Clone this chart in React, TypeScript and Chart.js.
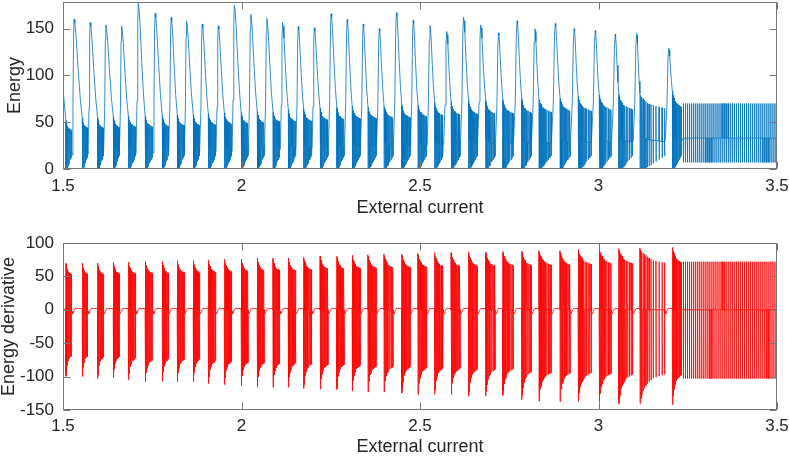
import { useEffect, useRef } from 'react';
import { Chart, registerables, Plugin, ChartConfiguration } from 'chart.js';

Chart.register(...registerables);

// axes
const xTicks = [1.5, 2, 2.5, 3, 3.5];
const xTickLabels = ['1.5', '2', '2.5', '3', '3.5'];
const energyTicks = [0, 50, 100, 150];
const energyTickLabels = ['0', '50', '100', '150'];
const derivTicks = [-150, -100, -50, 0, 50, 100];
const derivTickLabels = ['-150', '-100', '-50', '0', '50', '100'];

// bursts (external current units)
const burstStart = [1.508, 1.554, 1.597, 1.641, 1.683, 1.730, 1.778, 1.820, 1.865, 1.907, 1.952, 1.999, 2.044, 2.088, 2.131, 2.174, 2.220, 2.267, 2.310, 2.354, 2.399, 2.449, 2.494, 2.541, 2.587, 2.636, 2.684, 2.732, 2.785, 2.833, 2.892, 2.943, 3.002, 3.057, 3.116, 3.207];
const burstEnd = [1.524, 1.569, 1.613, 1.657, 1.703, 1.751, 1.795, 1.839, 1.882, 1.927, 1.972, 2.018, 2.063, 2.107, 2.151, 2.196, 2.242, 2.287, 2.332, 2.377, 2.424, 2.472, 2.518, 2.564, 2.612, 2.660, 2.710, 2.761, 2.811, 2.867, 2.920, 2.979, 3.035, 3.095, 3.185, 3.232];
const peakX = [1.531, 1.576, 1.620, 1.664, 1.711, 1.758, 1.803, 1.846, 1.890, 1.935, 1.980, 2.026, 2.071, 2.115, 2.159, 2.204, 2.251, 2.296, 2.341, 2.386, 2.434, 2.481, 2.528, 2.575, 2.622, 2.670, 2.720, 2.772, 2.822, 2.879, 2.932, 2.991, 3.047, 3.107, 3.197];
const peakEnergy = [160, 156.5, 154, 153, 177, 166.5, 162, 158, 155, 153, 175, 165, 161, 156.5, 152.5, 151, 166, 160, 155, 150, 167, 159, 153.5, 147, 162, 154, 145.5, 158.5, 150, 155.5, 150, 148, 144, 145, 129];
const blockTopEnergy = [52, 54.5, 54.5, 55.5, 56.5, 56.5, 57, 58, 58, 59, 60, 60.5, 61.5, 62.5, 63.5, 64, 65, 66, 67, 67.5, 68.5, 68.5, 70, 71, 72, 73, 73.5, 74, 75, 76, 77.5, 77.5, 79, 79.5, 81, 83];
const troughEnergy = [15, 16, 16, 17, 17, 17, 18, 18, 18, 19, 19, 20, 20, 21, 21, 22, 22, 23, 23, 24, 24, 25, 25, 26, 26, 27, 27, 28, 28, 29, 29, 30, 30, 31, 33];
const derivTop = [70, 70, 70, 71, 71.5, 72.5, 72.5, 73.5, 73.5, 74.5, 75.5, 76, 77.5, 77.5, 77.5, 79, 80.5, 80.5, 81.5, 82.5, 83.5, 83.5, 84.5, 85.5, 85.5, 86.5, 86.5, 87.5, 88, 88.5, 88.5, 90, 91.5, 91.5, 92.5, 93.5];
const derivBottom = [-99.6, -100, -103, -102, -105, -108, -107, -108, -108, -110.6, -112, -114, -115.5, -116, -116, -118, -119, -119, -121.5, -123, -123, -124.5, -126.5, -126.5, -126.5, -129.5, -129, -128, -134.6, -136.5, -137, -137, -138, -140.6, -140, -142];

// shape of one spike block, as fractions read from a burst
const spikeOffsets = [0, 0.04, 0.08, 0.13, 0.18, 0.24, 0.30, 0.37, 0.45, 0.54, 0.65, 0.78, 0.9, 1.0];
const energyLevels = [1, 0.97, 0.95, 0.93, 0.91, 0.89, 0.87, 0.86, 0.85, 0.84, 0.83, 0.82, 0.81, 0.8];
const energyLows = [0, 0, 0, 0, 0, 1, 2, 3, 4, 6, 8, 10, 12, 14];
const derivTopLevels = [1, 0.97, 0.94, 0.92, 0.9, 0.88, 0.86, 0.84, 0.82, 0.8, 0.79, 0.78, 0.77, 0.76];
const derivBottomLevels = [1, 0.95, 0.91, 0.87, 0.84, 0.81, 0.79, 0.77, 0.75, 0.73, 0.72, 0.71, 0.7, 0.69];

// shape of the big energy peak
const riseT = [0.2, 0.55, 0.8, 1];
const riseLevel = [0, 0.35, 0.88, 1];
const descentT = [0.1, 0.25, 0.5, 0.75];
const descentLevel = [0.96, 0.82, 0.49, 0.2];

// small dip of the derivative after a block
const dipDx = [0.0015, 0.0035, 0.006, 0.01];
const dipValue = [-2.5, -6, -2, 2];

const startEnergy = 86;
const quietDeriv = 2;

// regular spiking after the last burst
const tailPeriod = 0.0057;
const tailEnergyTop = 70;
const tailEnergyHover = 33;
const tailEnergyLow = 7;
const tailDerivTop = 72;
const tailDerivBottom = -103;

const dx = 0.0004;

type P = { x: number; y: number };

function buildEnergy(): P[] {
  const pts: P[] = [{ x: 1.5, y: startEnergy }];
  for (let i = 0; i < burstStart.length; i++) {
    const s = burstStart[i];
    const e = burstEnd[i];
    spikeOffsets.forEach((o, k) => {
      const x = s + o * (e - s);
      const top = blockTopEnergy[i] * energyLevels[k];
      const hover = top * 0.45;
      if (k > 0) pts.push({ x: x - dx, y: hover });
      pts.push({ x, y: top });
      pts.push({ x: x + dx, y: energyLows[k] });
      pts.push({ x: x + 2 * dx, y: hover });
    });
    if (i < peakX.length) {
      const tr = troughEnergy[i];
      const pk = peakEnergy[i];
      riseT.forEach((t, k) => {
        pts.push({ x: e + t * (peakX[i] - e), y: tr + riseLevel[k] * (pk - tr) });
      });
      const next = blockTopEnergy[i + 1];
      descentT.forEach((t, k) => {
        pts.push({ x: peakX[i] + t * (burstStart[i + 1] - peakX[i]), y: next + descentLevel[k] * (pk - next) });
      });
    }
  }
  const tailFrom = burstEnd[burstEnd.length - 1];
  for (let x = tailFrom + tailPeriod; x <= 3.5; x += tailPeriod) {
    pts.push({ x: x - dx, y: tailEnergyHover });
    pts.push({ x, y: tailEnergyTop });
    pts.push({ x: x + dx, y: tailEnergyLow });
    pts.push({ x: x + 2 * dx, y: tailEnergyHover });
  }
  return pts;
}

function buildDeriv(): P[] {
  const pts: P[] = [{ x: 1.5, y: quietDeriv }];
  for (let i = 0; i < burstStart.length; i++) {
    const s = burstStart[i];
    const e = burstEnd[i];
    spikeOffsets.forEach((o, k) => {
      const x = s + o * (e - s);
      pts.push({ x: x - dx * 0.5, y: 0 });
      pts.push({ x, y: derivTop[i] * derivTopLevels[k] });
      pts.push({ x: x + dx, y: derivBottom[i] * derivBottomLevels[k] });
      pts.push({ x: x + 1.5 * dx, y: 0 });
    });
    if (i < peakX.length) {
      dipDx.forEach((d, k) => pts.push({ x: e + d, y: dipValue[k] }));
      pts.push({ x: burstStart[i + 1] - dx, y: quietDeriv });
    }
  }
  const tailFrom = burstEnd[burstEnd.length - 1];
  for (let x = tailFrom + tailPeriod; x <= 3.5; x += tailPeriod) {
    pts.push({ x: x - dx * 0.5, y: 0 });
    pts.push({ x, y: tailDerivTop });
    pts.push({ x: x + dx, y: tailDerivBottom });
    pts.push({ x: x + 1.5 * dx, y: 0 });
  }
  return pts;
}

const axisColor = '#262626';
const fontFamily = '"Liberation Sans", Arial, sans-serif';

// matlab-like box with inward ticks
const boxPlugin: Plugin = {
  id: 'matlabBox',
  afterDatasetsDraw(chart) {
    const { ctx, chartArea: a, scales } = chart;
    const l = Math.round(a.left) + 0.5;
    const r = Math.round(a.right) - 0.5;
    const t = Math.round(a.top) + 0.5;
    const b = Math.round(a.bottom) - 0.5;
    ctx.save();
    ctx.strokeStyle = '#777777';
    ctx.lineWidth = 1;
    ctx.strokeRect(l, t, r - l, b - t);
    ctx.beginPath();
    xTicks.forEach((v) => {
      const px = Math.round(scales.x.getPixelForValue(v)) + 0.5;
      ctx.moveTo(px, b); ctx.lineTo(px, b - 7);
      ctx.moveTo(px, t); ctx.lineTo(px, t + 7);
    });
    (scales.y.ticks || []).forEach((tk) => {
      const py = Math.round(scales.y.getPixelForValue(tk.value)) + 0.5;
      ctx.moveTo(l, py); ctx.lineTo(l + 7, py);
      ctx.moveTo(r, py); ctx.lineTo(r - 7, py);
    });
    ctx.stroke();
    ctx.restore();
  },
};

const noPad = (scale: any) => {
  scale.paddingTop = 0;
  scale.paddingBottom = 0;
  scale.paddingLeft = 0;
  scale.paddingRight = 0;
};

function makeConfig(
  data: P[],
  color: string,
  yMin: number,
  yMax: number,
  yTicks: number[],
  yLabels: string[],
  yTitle: string,
  padTop: number,
  xAxisHeight: number,
  xTickPad: number,
  xTitlePad: number,
  yTitlePad: number,
): ChartConfiguration<'line'> {
  return {
    type: 'line',
    data: {
      datasets: [{
        data,
        borderColor: color,
        borderWidth: 0.8,
        pointRadius: 0,
        tension: 0,
        fill: false,
      }],
    },
    options: {
      animation: false,
      responsive: true,
      maintainAspectRatio: false,
      parsing: false,
      normalized: true,
      events: [],
      layout: { padding: { top: padTop, right: 12, left: 0, bottom: 0 } },
      plugins: { legend: { display: false }, tooltip: { enabled: false } },
      scales: {
        x: {
          type: 'linear',
          min: 1.5,
          max: 3.5,
          grid: { display: false, drawTicks: false },
          border: { display: false },
          afterBuildTicks: (scale) => { scale.ticks = xTicks.map((v) => ({ value: v })); },
          afterFit: (scale) => { scale.height = xAxisHeight; noPad(scale); },
          ticks: {
            autoSkip: false,
            maxRotation: 0,
            padding: xTickPad,
            color: axisColor,
            font: { family: fontFamily, size: 17 },
            callback: (v) => xTickLabels[xTicks.indexOf(Number(v))] ?? '',
          },
          title: {
            display: true,
            text: 'External current',
            color: axisColor,
            font: { family: fontFamily, size: 18, lineHeight: 1 },
            padding: { top: 0, bottom: xTitlePad },
          },
        },
        y: {
          type: 'linear',
          min: yMin,
          max: yMax,
          grid: { display: false, drawTicks: false },
          border: { display: false },
          afterBuildTicks: (scale) => { scale.ticks = yTicks.map((v) => ({ value: v })); },
          afterFit: (scale) => { scale.width = 63; noPad(scale); },
          ticks: {
            autoSkip: false,
            padding: 9,
            color: axisColor,
            font: { family: fontFamily, size: 17 },
            callback: (v) => yLabels[yTicks.indexOf(Number(v))] ?? '',
          },
          title: {
            display: true,
            text: yTitle,
            color: axisColor,
            font: { family: fontFamily, size: 18, lineHeight: 1 },
            padding: { top: yTitlePad, bottom: 0 },
          },
        },
      },
    },
    plugins: [boxPlugin],
  };
}

const App: React.FC = () => {
  const topRef = useRef<HTMLCanvasElement>(null);
  const bottomRef = useRef<HTMLCanvasElement>(null);

  useEffect(() => {
    const charts: Chart[] = [];
    if (topRef.current) {
      charts.push(new Chart(topRef.current, makeConfig(
        buildEnergy(), '#0072BD', 0, 178.5, energyTicks, energyTickLabels, 'Energy', 2, 59, 7, 11, 6,
      ) as any));
    }
    if (bottomRef.current) {
      charts.push(new Chart(bottomRef.current, makeConfig(
        buildDeriv(), '#FF0000', -150, 100, derivTicks, derivTickLabels, 'Energy derivative', 15, 46, 6, 0, 0.5,
      ) as any));
    }
    return () => { charts.forEach((c) => c.destroy()); };
  }, []);

  return (
    <div style={{ position: 'absolute', left: 0, top: 0, width: 789, height: 456, background: '#fff' }}>
      <div style={{ position: 'absolute', left: 0, top: 0, width: 789, height: 228 }}>
        <canvas ref={topRef}></canvas>
      </div>
      <div style={{ position: 'absolute', left: 0, top: 228, width: 789, height: 228 }}>
        <canvas ref={bottomRef}></canvas>
      </div>
    </div>
  );
};

export default App;
